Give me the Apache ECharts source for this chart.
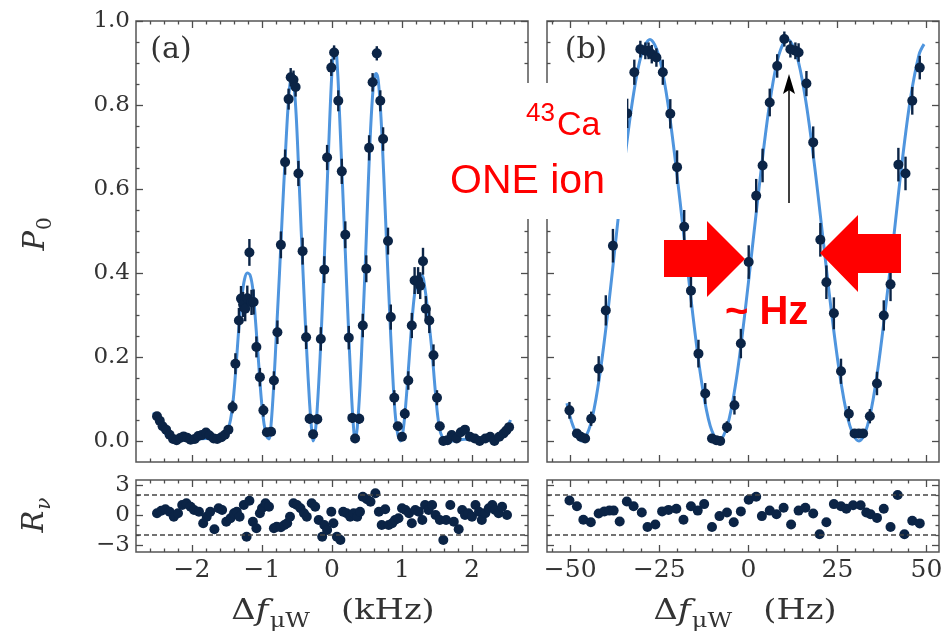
<!DOCTYPE html>
<html lang="en">
<head>
<meta charset="utf-8">
<title>P0 scan</title>
<script src="https://cdn.jsdelivr.net/npm/echarts@6/dist/echarts.min.js"></script>
<style>
  html, body { margin: 0; padding: 0; background: #fff; }
  #chart { width: 950px; height: 644px; }
</style>
</head>
<body>
<div id="chart"></div>
<script>
// (a) kHz scan: points, error bars, fit
var aX = [-2.50,-2.46,-2.42,-2.37,-2.32,-2.27,-2.22,-2.17,-2.12,-2.07,
          -2.02,-1.96,-1.91,-1.86,-1.80,-1.75,-1.69,-1.64,-1.58,-1.53,
          -1.48,-1.42,-1.38,-1.33,-1.30,-1.27,-1.24,-1.21,-1.18,-1.15,
          -1.12,-1.08,-1.03,-0.98,-0.93,-0.87,-0.83,-0.78,-0.73,-0.67,
          -0.62,-0.59,-0.55,-0.52,-0.48,-0.42,-0.37,-0.32,-0.27,-0.21,
          -0.16,-0.11,-0.07,-0.01,0.03,0.09,0.14,0.19,0.24,0.29,
          0.33,0.39,0.44,0.49,0.53,0.58,0.64,0.69,0.73,0.80,
          0.84,0.89,0.94,1.00,1.04,1.09,1.14,1.18,1.23,1.26,
          1.30,1.34,1.39,1.45,1.50,1.54,1.59,1.65,1.71,1.78,
          1.84,1.90,1.97,2.04,2.11,2.19,2.26,2.32,2.39,2.45,
          2.49,2.53];
var aP = [0.059,0.048,0.035,0.027,0.015,0.005,0.002,0.007,0.011,0.008,
          0.003,0.005,0.012,0.014,0.020,0.013,0.006,0.005,0.009,0.015,
          0.027,0.081,0.184,0.287,0.339,0.325,0.315,0.340,0.449,0.330,
          0.331,0.224,0.152,0.073,0.021,0.022,0.144,0.259,0.467,0.664,
          0.814,0.866,0.860,0.843,0.637,0.452,0.247,0.053,0.016,0.052,
          0.243,0.408,0.675,0.889,0.925,0.810,0.642,0.491,0.246,0.055,
          0.006,0.053,0.275,0.410,0.698,0.854,0.923,0.810,0.719,0.476,
          0.295,0.103,0.035,0.010,0.065,0.144,0.275,0.382,0.382,0.370,
          0.428,0.315,0.287,0.204,0.103,0.035,0.000,0.002,0.014,0.006,
          0.021,0.027,0.010,0.006,0.000,0.006,0.010,0.000,0.010,0.018,
          0.025,0.033];
var aErr = [0.010,0.009,0.008,0.008,0.006,0.005,0.005,0.005,0.006,0.005,
            0.005,0.005,0.006,0.006,0.007,0.006,0.005,0.005,0.005,0.006,
            0.008,0.015,0.025,0.030,0.030,0.030,0.030,0.030,0.032,0.030,
            0.030,0.025,0.022,0.015,0.008,0.008,0.022,0.028,0.032,0.030,
            0.025,0.022,0.022,0.023,0.030,0.032,0.028,0.012,0.007,0.012,
            0.028,0.032,0.030,0.020,0.017,0.025,0.030,0.032,0.028,0.012,
            0.005,0.012,0.028,0.032,0.030,0.022,0.017,0.025,0.028,0.032,
            0.030,0.018,0.009,0.005,0.013,0.022,0.030,0.032,0.032,0.032,
            0.032,0.030,0.030,0.026,0.018,0.009,0.004,0.004,0.006,0.005,
            0.007,0.008,0.005,0.005,0.004,0.005,0.005,0.004,0.005,0.006,
            0.008,0.009];
var aFitX = [-2.55,-2.50,-2.45,-2.40,-2.35,-2.30,-2.20,-2.00,-1.80,-1.65,-1.55,-1.50,-1.45,-1.41,-1.37,
             -1.33,-1.29,-1.25,-1.21,-1.17,-1.13,-1.09,-1.05,-1.01,-0.97,-0.93,-0.90,-0.87,-0.83,-0.79,
             -0.75,-0.71,-0.67,-0.63,-0.60,-0.57,-0.54,-0.51,-0.48,-0.44,-0.40,-0.36,-0.32,-0.29,-0.27,
             -0.24,-0.21,-0.17,-0.13,-0.09,-0.05,-0.01,0.02,0.05,0.08,0.11,0.15,0.19,0.23,0.27,
             0.30,0.33,0.36,0.40,0.44,0.48,0.52,0.56,0.60,0.63,0.66,0.70,0.74,0.78,0.82,
             0.86,0.90,0.94,0.98,1.02,1.06,1.10,1.14,1.18,1.23,1.28,1.33,1.38,1.43,1.47,
             1.51,1.55,1.60,1.70,1.90,2.10,2.30,2.40,2.48,2.55];
var aFitP = [0.068,0.050,0.035,0.022,0.012,0.005,0.002,0.004,0.006,0.005,0.010,0.020,0.050,0.100,0.180,
             0.270,0.340,0.385,0.400,0.395,0.360,0.280,0.190,0.100,0.040,0.010,0.005,0.040,0.140,0.270,
             0.400,0.540,0.670,0.790,0.850,0.865,0.840,0.770,0.660,0.500,0.350,0.210,0.090,0.025,0.000,
             0.020,0.080,0.200,0.350,0.520,0.690,0.850,0.920,0.930,0.880,0.770,0.610,0.450,0.290,0.140,
             0.050,0.005,0.030,0.130,0.280,0.440,0.620,0.770,0.860,0.875,0.860,0.770,0.630,0.470,0.320,
             0.180,0.070,0.015,0.000,0.030,0.100,0.190,0.280,0.350,0.390,0.395,0.360,0.290,0.210,0.130,
             0.060,0.020,0.005,0.000,0.004,0.003,0.002,0.008,0.025,0.050];

// (b) Hz scan
var bX = [-50.2,-48.1,-47.0,-45.8,-44.1,-42.0,-40.0,-38.0,-36.0,-34.0,
          -32.0,-30.3,-28.9,-28.0,-27.1,-25.8,-24.0,-21.9,-20.0,-18.0,
          -16.1,-14.0,-12.1,-10.2,-9.0,-7.9,-6.0,-3.9,-2.1,0.1,
          2.2,4.0,6.0,8.1,10.1,11.8,13.2,14.1,16.3,18.2,
          20.2,21.9,24.0,26.0,28.2,29.8,31.0,32.2,34.1,36.1,
          38.0,39.9,42.1,44.1,46.0,48.1];
var bP = [0.073,0.018,0.010,0.006,0.053,0.172,0.311,0.465,0.620,0.780,
          0.878,0.933,0.929,0.929,0.921,0.913,0.878,0.779,0.652,0.510,
          0.358,0.208,0.113,0.006,0.002,0.000,0.033,0.085,0.232,0.426,
          0.584,0.656,0.806,0.893,0.957,0.933,0.929,0.925,0.851,0.711,
          0.479,0.378,0.304,0.166,0.065,0.018,0.018,0.018,0.059,0.137,
          0.299,0.373,0.658,0.637,0.810,0.889];
var bErr = [0.020,0.010,0.008,0.008,0.017,0.030,0.036,0.040,0.040,0.035,
            0.030,0.020,0.020,0.020,0.022,0.022,0.030,0.035,0.040,0.040,
            0.040,0.033,0.025,0.008,0.006,0.006,0.014,0.022,0.035,0.040,
            0.040,0.040,0.033,0.028,0.018,0.020,0.020,0.022,0.030,0.038,
            0.040,0.040,0.038,0.030,0.018,0.010,0.010,0.010,0.017,0.028,
            0.036,0.040,0.040,0.040,0.033,0.028];
var bFitX = [-50.9,-49.2,-46.8,-44.4,-42.0,-39.6,-37.2,-34.8,-32.4,-30.0,-27.6,
             -25.2,-22.8,-20.4,-17.95,-15.5,-13.1,-10.7,-8.3,
             -5.9,-3.5,-1.1,1.35,3.8,6.2,8.6,11.0,
             13.5,16.0,18.5,21.0,23.5,26.0,28.5,31.0,
             33.4,35.8,38.2,40.7,43.1,45.5,47.9,49.3];
var bFitP = [0.090,0.036,0.000,0.036,0.140,0.295,0.478,0.661,0.816,0.920,0.956,
             0.920,0.816,0.661,0.478,0.295,0.140,0.036,0.000,
             0.036,0.140,0.295,0.478,0.661,0.816,0.920,0.956,
             0.920,0.816,0.661,0.478,0.295,0.140,0.036,0.000,
             0.036,0.140,0.295,0.478,0.661,0.816,0.920,0.945];

// residuals
var aResX = [-2.50,-2.44,-2.38,-2.32,-2.26,-2.20,-2.14,-2.08,-2.02,-1.97,
             -1.90,-1.84,-1.79,-1.74,-1.68,-1.62,-1.57,-1.51,-1.45,-1.40,
             -1.36,-1.32,-1.26,-1.22,-1.18,-1.13,-1.08,-1.03,-1.00,-0.95,
             -0.90,-0.83,-0.79,-0.73,-0.68,-0.64,-0.60,-0.55,-0.50,-0.45,
             -0.40,-0.36,-0.29,-0.24,-0.19,-0.14,-0.11,-0.07,-0.01,0.02,
             0.07,0.12,0.16,0.21,0.26,0.31,0.36,0.40,0.44,0.50,
             0.55,0.62,0.67,0.71,0.76,0.81,0.86,0.90,0.95,1.00,
             1.05,1.10,1.14,1.19,1.24,1.29,1.33,1.38,1.43,1.48,
             1.54,1.59,1.63,1.69,1.74,1.81,1.86,1.90,1.95,2.00,
             2.05,2.10,2.14,2.19,2.24,2.29,2.33,2.38,2.43,2.50];
var aRes = [0.17,0.43,0.57,0.33,-0.17,0.17,1.0,1.17,0.83,0.5,
            0.33,-0.83,-0.17,0.33,-1.43,0.67,0.5,-0.67,-0.33,0.17,
            0.33,-0.17,1.0,-2.17,1.43,-0.67,-1.33,0.17,0.67,1.17,
            0.83,-1.33,-1.17,-1.23,-1.0,-0.83,-0.17,1.17,1.0,0.67,
            0.17,-0.17,1.17,0.83,-0.5,-2.17,-1.0,-1.5,0.33,-0.83,
            -2.17,-2.5,0.33,0.17,-0.17,0.17,-0.17,0.33,1.83,1.57,
            1.33,2.17,0.33,-1.0,0.57,-1.0,-0.83,-0.5,-0.33,0.67,
            0.5,0.17,-0.83,0.5,0.33,-0.5,1.0,0.5,1.0,0,
            -0.5,-2.5,-0.5,1.0,-0.67,-1.43,0.5,0,0.17,-0.17,
            1.0,0.33,-0.5,0.17,0.67,1.0,0.5,0.17,0.83,0];
var bResX = [-50.2,-48.1,-46.3,-44.2,-42.0,-40.4,-39.0,-37.8,-36.1,-34.1,
             -32.2,-29.9,-28.3,-26.1,-24.2,-22.4,-20.2,-18.2,-16.1,-14.2,
             -12.4,-10.2,-8.1,-6.0,-4.1,-2.1,0.1,2.2,3.8,6.0,
             7.9,9.9,12.0,14.1,16.0,18.2,20.0,21.9,24.0,26.0,
             27.5,29.4,31.5,33.1,34.3,36.1,38.0,39.9,41.9,43.8,
             46.0,48.1];
var bRes = [1.45,0.87,-0.47,-0.73,0.15,0.36,0.44,0.44,-0.65,1.35,
            0.87,0.25,-1.2,-0.95,0.36,0.51,0.62,-0.47,0.87,0.44,
            1.09,-1.2,-0.11,0.25,-0.73,0.36,1.53,1.82,-0.11,0.44,
            0.07,0.73,-0.95,0.44,0.73,0.15,-1.93,-0.73,1.09,0.87,
            0.62,0.98,0.98,0.25,0.07,-0.29,0.62,-1.2,2.0,-1.93,
            -0.58,-0.84];

// ticks
var aTicks = [-2, -1, 0, 1, 2];
var aMinor = [-2.6,-2.4,-2.2,-1.8,-1.6,-1.4,-1.2,-0.8,-0.6,-0.4,-0.2,0.2,0.4,0.6,0.8,1.2,1.4,1.6,1.8,2.2,2.4,2.6];
var bTicks = [-50, -25, 0, 25, 50];
var bMinor = [-55,-45,-40,-35,-30,-20,-15,-10,-5,5,10,15,20,30,35,40,45];
var pTicks = [0, 0.2, 0.4, 0.6, 0.8, 1.0];
var pMinor = [0.05,0.1,0.15,0.25,0.3,0.35,0.45,0.5,0.55,0.65,0.7,0.75,0.85,0.9,0.95];
var rTicks = [-3, 0, 3];
var rMinor = [-2, -1, 1, 2];
var rBand = [2, -2];

var NAVY = '#0b2446';
var FIT = '#4f95de';
var SERIF = 'DejaVu Serif';

function fmt(d) {
    return function (v) {
        var s = Math.abs(v).toFixed(d);
        return v < 0 ? '\u2212' + s : s;
    };
}

function axis(gi, pos, range, ticks, len, labelFmt, size) {
    return {
        type: 'value', gridIndex: gi, position: pos, min: range[0], max: range[1],
        axisLine: { show: false, onZero: false },
        splitLine: { show: false },
        axisTick: { show: true, inside: true, length: len, customValues: ticks,
                    lineStyle: { color: '#4d4d4d', width: 1.3 } },
        axisLabel: labelFmt ? { show: true, customValues: ticks, formatter: labelFmt, color: '#333',
                                fontFamily: SERIF, fontSize: size, margin: 6 } : { show: false }
    };
}

var xAxes = [], yAxes = [];
// per grid: x -> bottom major, bottom minor, top major, top minor ; y -> left major, left minor, right major, right minor
function frame(gi, xr, xMaj, xMin, xFmt, yr, yMaj, yMin, yFmt) {
    xAxes.push(axis(gi, 'bottom', xr, xMaj, 7, xFmt, 25),
               axis(gi, 'bottom', xr, xMin, 3.5),
               axis(gi, 'top', xr, xMaj, 7),
               axis(gi, 'top', xr, xMin, 3.5));
    yAxes.push(axis(gi, 'left', yr, yMaj, 7, yFmt, 23),
               axis(gi, 'left', yr, yMin, 3.5),
               axis(gi, 'right', yr, yMaj, 7),
               axis(gi, 'right', yr, yMin, 3.5));
}

var aRange = [-2.8, 2.8], bRange = [-56.5, 53.5], pRange = [-0.05, 1.0], rRange = [-3.7, 3.5];
frame(0, aRange, aTicks, aMinor, null, pRange, pTicks, pMinor, fmt(1));
frame(1, bRange, bTicks, bMinor, null, pRange, pTicks, pMinor, null);
frame(2, aRange, aTicks, aMinor, fmt(0), rRange, rTicks, rMinor, fmt(0));
frame(3, bRange, bTicks, bMinor, fmt(0), rRange, rTicks, rMinor, null);

function zip() {
    var cols = arguments;
    return cols[0].map(function (v, i) {
        var row = [];
        for (var k = 0; k < cols.length; k++) row.push(cols[k][i]);
        return row;
    });
}

function fitLine(g, xs, ys) {
    return { type: 'line', xAxisIndex: 4 * g, yAxisIndex: 4 * g, data: zip(xs, ys),
             showSymbol: false, smooth: 0.35, clip: true, z: 2, silent: true,
             lineStyle: { color: FIT, width: 3 } };
}
function errBars(g, xs, ys, es) {
    return { type: 'custom', xAxisIndex: 4 * g, yAxisIndex: 4 * g, data: zip(xs, ys, es),
             encode: { x: 0, y: 1 }, z: 3, silent: true,
             renderItem: function (params, api) {
                 var x = api.value(0), y = api.value(1), e = api.value(2);
                 var lo = api.coord([x, y - e]), hi = api.coord([x, y + e]);
                 return { type: 'line', shape: { x1: lo[0], y1: lo[1], x2: hi[0], y2: hi[1] },
                          style: { stroke: NAVY, lineWidth: 2.4 } };
             } };
}
function dots(g, xs, ys, extra) {
    var s = { type: 'scatter', xAxisIndex: 4 * g, yAxisIndex: 4 * g, data: zip(xs, ys),
              symbolSize: 10, z: 4, silent: true, itemStyle: { color: NAVY, opacity: 1 } };
    if (extra) s.markLine = extra;
    return s;
}
var band = { silent: true, symbol: 'none', label: { show: false },
             lineStyle: { color: '#444', type: [5, 3], width: 1.5 },
             data: rBand.map(function (v) { return { yAxis: v }; }) };

var rich = {
    m: { fontFamily: SERIF, fontSize: 28, fill: '#333' },
    i: { fontFamily: SERIF, fontStyle: 'italic', fontSize: 29, fill: '#333' },
    s: { fontFamily: SERIF, fontSize: 20, fill: '#333', padding: [20, 0, 0, 1] },
    si: { fontFamily: SERIF, fontStyle: 'italic', fontSize: 20, fill: '#333', padding: [20, 0, 0, 1] },
    gap: { width: 26, fontSize: 28 }
};
function label(x, y, text, rot, sx) {
    return { type: 'text', x: x, y: y, rotation: rot || 0, scaleX: sx || 1, z: 50,
             style: { text: text, rich: rich, align: 'center', verticalAlign: 'middle',
                      textAlign: 'center', textVerticalAlign: 'middle' } };
}
function plain(x, y, text, font, color, align) {
    return { type: 'text', x: x, y: y, z: 120,
             style: { text: text, font: font, fill: color, align: align || 'left', verticalAlign: 'middle',
                      textAlign: align || 'left', textVerticalAlign: 'middle' } };
}

var chart = echarts.init(document.getElementById('chart'), null, { renderer: 'canvas' });
chart.setOption({
    animation: false,
    backgroundColor: '#fff',
    grid: [
        { left: 136, top: 21, width: 392, height: 441, show: true, borderColor: '#555', borderWidth: 1.5 },
        { left: 547, top: 21, width: 392, height: 441, show: true, borderColor: '#555', borderWidth: 1.5 },
        { left: 136, top: 480, width: 392, height: 72, show: true, borderColor: '#555', borderWidth: 1.5 },
        { left: 547, top: 480, width: 392, height: 72, show: true, borderColor: '#555', borderWidth: 1.5 }
    ],
    xAxis: xAxes,
    yAxis: yAxes,
    series: [
        fitLine(0, aFitX, aFitP), errBars(0, aX, aP, aErr), dots(0, aX, aP),
        fitLine(1, bFitX, bFitP), errBars(1, bX, bP, bErr), dots(1, bX, bP),
        dots(2, aResX, aRes, band),
        dots(3, bResX, bRes, band)
    ],
    graphic: [
        plain(171, 50, '(a)', '30px "DejaVu Serif"', '#333', 'center'),
        plain(586, 50, '(b)', '30px "DejaVu Serif"', '#333', 'center'),
        label(36, 234, '{i|P}{s|0}', Math.PI / 2),
        label(35, 515, '{i|R}{si|ν}', Math.PI / 2),
        label(333, 612, '{m|Δ}{i|f}{s|μW}{gap|}{m|(kHz)}', 0, 1.2),
        label(745, 612, '{m|Δ}{i|f}{s|μW}{gap|}{m|(Hz)}', 0, 1.2),
        // annotation overlay
        { type: 'rect', z: 110, shape: { x: 440, y: 83, width: 187, height: 136 }, style: { fill: '#fff' } },
        plain(526, 114, '43', '26px "Liberation Sans"', '#ff0000'),
        plain(557, 126, 'Ca', '34px "Liberation Sans"', '#ff0000'),
        plain(450, 182, 'ONE ion', '41px "Liberation Sans"', '#ff0000'),
        plain(725, 313, '~ Hz', 'bold 40px "Liberation Sans"', '#ff0000'),
        { type: 'polygon', z: 110, shape: { points: [[664, 240], [707, 240], [707, 221], [745, 259], [707, 297], [707, 277], [664, 277]] },
          style: { fill: '#ff0000' } },
        { type: 'polygon', z: 110, shape: { points: [[901, 234], [858, 234], [858, 215], [820, 253], [858, 292], [858, 273], [901, 273]] },
          style: { fill: '#ff0000' } },
        { type: 'line', z: 110, shape: { x1: 789, y1: 203, x2: 789, y2: 88 }, style: { stroke: '#000', lineWidth: 1.5 } },
        { type: 'polygon', z: 110, shape: { points: [[789, 74], [795, 94], [789, 90], [783, 94]] }, style: { fill: '#000' } }
    ]
});
</script>
</body>
</html>
